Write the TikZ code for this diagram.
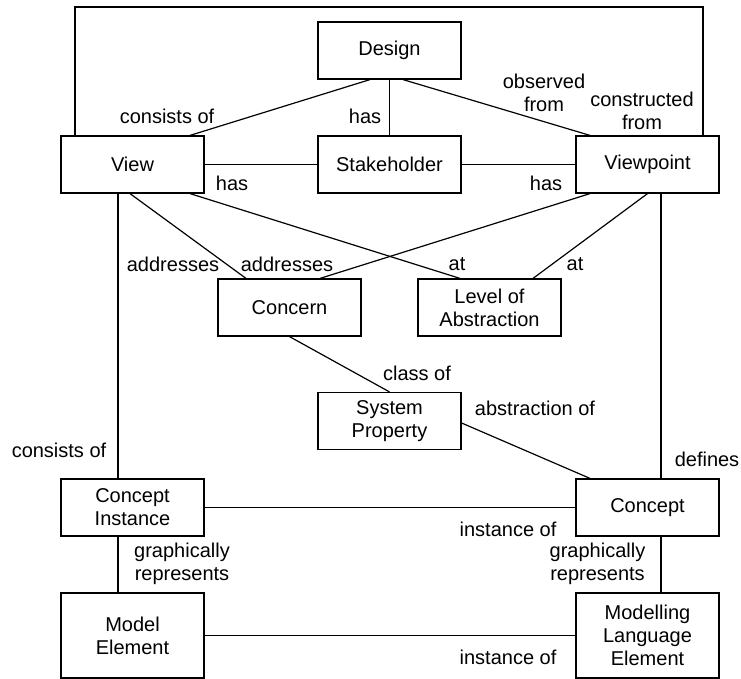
\documentclass[tikz,border=0pt]{standalone}
\usepackage{fontspec}
\setmainfont{Liberation Sans}
\begin{document}
\begin{tikzpicture}[x=1pt,y=-1pt,
  entity/.style={draw, line width=1.2pt, minimum width=143pt, minimum height=57pt,
                 align=center, inner sep=0pt, font=\fontsize{20}{23}\selectfont},
  tallentity/.style={entity, minimum height=85pt},
  lbl/.style={align=center, inner sep=0pt, font=\fontsize{20}{23}\selectfont},
  link/.style={line width=1.2pt}]
\useasboundingbox (0,0) rectangle (741,679);

% entities
\node[entity] (design)  at (389.5,50.5)  {Design};
\node[entity] (view)    at (132.5,164.5) {View};
\node[entity] (stake)   at (389.5,164.5) {Stakeholder};
\node[entity] (vp)      at (647.5,164.5) {Viewpoint};
\node[entity] (concern) at (289.5,307.5) {Concern};
\node[entity] (loa)     at (489.5,307.5) {Level of\\Abstraction};
\node[entity] (sp)      at (389.5,421)   {System\\Property};
\node[entity] (ci)      at (132.5,507.5) {Concept\\Instance};
\node[entity] (concept) at (647.5,507.5) {Concept};
\node[tallentity] (me)  at (132.5,635.5) {Model\\Element};
\node[tallentity] (mle) at (647.5,635.5) {Modelling\\Language\\Element};

% outer frame: view constructed from viewpoint
\coordinate (frametop) at (75,7);
\draw[link] ([xshift=-57.5pt]view.north) |- (frametop) -| ([xshift=55.5pt]vp.north);

% relations
\draw[link] ([xshift=-19.5pt]design.south) -- ([xshift=57.5pt]view.north);
\draw[link] (design) -- (stake);
\draw[link] ([xshift=13.5pt]design.south) -- ([xshift=-57.5pt]vp.north);
\draw[link] (view) -- (stake);
\draw[link] (stake) -- (vp);
\draw[link] ([xshift=-2.5pt]view.south) -- ([xshift=-43.5pt]concern.north);
\draw[link] ([xshift=57.5pt]view.south) -- ([xshift=-29.5pt]loa.north);
\draw[link] ([xshift=-57.5pt]vp.south) -- ([xshift=30.5pt]concern.north);
\draw[link] (vp.south) -- ([xshift=43.5pt]loa.north);
\draw[link] ([xshift=-14.5pt]view.south) -- ([xshift=-14.5pt]ci.north);
\draw[link] ([xshift=13.5pt]vp.south) -- ([xshift=13.5pt]concept.north);
\draw[link] (concern.south) -- (sp.north);
\draw[link] ([yshift=-2pt]sp.east) -- ([xshift=-57.5pt]concept.north);
\draw[link] (ci) -- (concept);
\draw[link] ([xshift=-14.5pt]ci.south) -- ([xshift=-14.5pt]me.north);
\draw[link] ([xshift=13.5pt]concept.south) -- ([xshift=13.5pt]mle.north);
\draw[link] (me) -- (mle);

% relation labels
\node[lbl] (l1)  at (167,116)   {consists of};
\node[lbl] (l2)  at (365,116)   {has};
\node[lbl] (l3)  at (544,93)    {observed\\from};
\node[lbl] (l4)  at (642,111)   {constructed\\from};
\node[lbl] (l5)  at (232,183)   {has};
\node[lbl] (l6)  at (546,183)   {has};
\node[lbl] (l7)  at (173,264)   {addresses};
\node[lbl] (l8)  at (287,264)   {addresses};
\node[lbl] (l9)  at (457,264)   {at};
\node[lbl] (l10) at (575,264)   {at};
\node[lbl] (l11) at (417,373)   {class of};
\node[lbl] (l12) at (535,408)   {abstraction of};
\node[lbl] (l13) at (59,450)    {consists of};
\node[lbl] (l14) at (707,459)   {defines};
\node[lbl] (l15) at (508,529)   {instance of};
\node[lbl] (l16) at (182,564)   {graphically\\represents};
\node[lbl] (l17) at (597.5,564) {graphically\\represents};
\node[lbl] (l18) at (508,657)   {instance of};
\end{tikzpicture}
\end{document}
